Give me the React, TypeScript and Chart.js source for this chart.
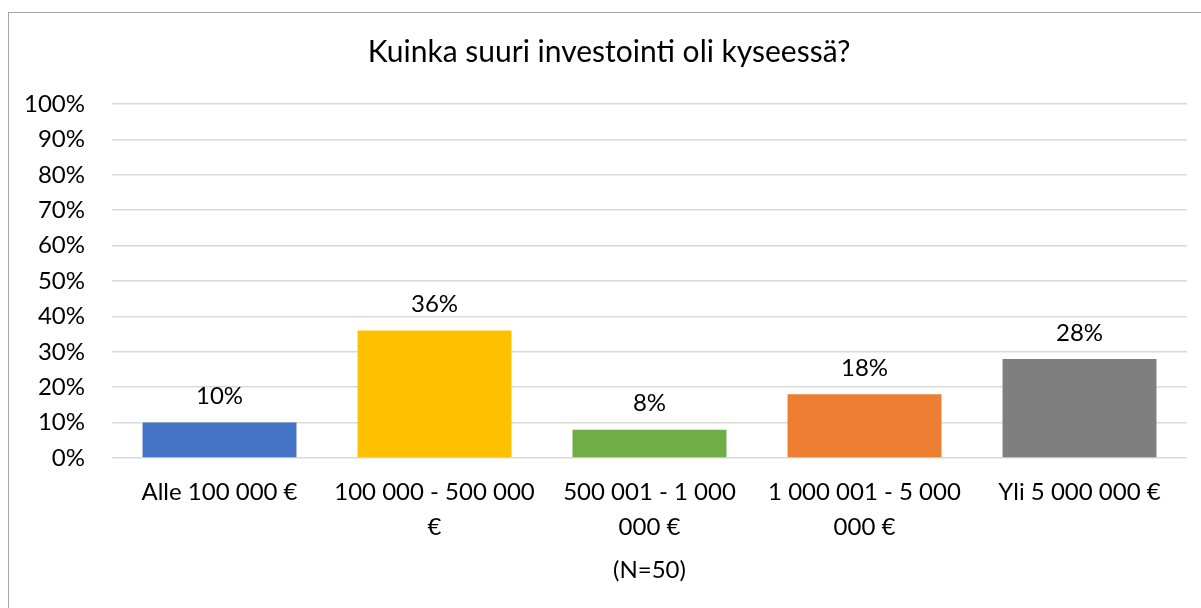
import React, { useEffect, useRef } from "react";
import { Chart, registerables } from "chart.js";

Chart.register(...registerables);

const titleText = "Kuinka suuri investointi oli kyseessä?";
const xAxisTitle = "(N=50)";
const categories: string[][] = [
  ["Alle 100 000 €"],
  ["100 000 - 500 000", "€"],
  ["500 001 - 1 000", "000 €"],
  ["1 000 001 - 5 000", "000 €"],
  ["Yli 5 000 000 €"],
];
const values: number[] = [10, 36, 8, 18, 28];
const barColors: string[] = ["#4472C4", "#FFC000", "#70AD47", "#ED7D31", "#7F7F7F"];
const yTickValues: number[] = [0, 10, 20, 30, 40, 50, 60, 70, 80, 90, 100];

const FONT = "Lato, 'Open Sans', sans-serif";

const dataLabelPlugin = {
  id: "dataLabels",
  afterDatasetsDraw(chart: any) {
    const ctx = chart.ctx;
    const meta = chart.getDatasetMeta(0);
    ctx.save();
    ctx.font = `24px ${FONT}`;
    ctx.fillStyle = "#000";
    ctx.textAlign = "center";
    ctx.textBaseline = "middle";
    meta.data.forEach((bar: any, i: number) => {
      const { x, y } = bar.getProps(["x", "y"], true);
      ctx.fillText(values[i] + "%", x, y - 26);
    });
    ctx.restore();
  },
};

export default function App() {
  const canvasRef = useRef<HTMLCanvasElement | null>(null);

  useEffect(() => {
    if (!canvasRef.current) return;
    const chart = new Chart(canvasRef.current, {
      type: "bar",
      data: {
        labels: categories,
        datasets: [
          {
            data: values,
            backgroundColor: barColors,
            borderWidth: 0,
            barPercentage: 0.716,
            categoryPercentage: 1,
          },
        ],
      },
      options: {
        responsive: false,
        animation: false,
        devicePixelRatio: 1,
        layout: { padding: { left: 0, right: 0, top: 0, bottom: 0 } },
        plugins: {
          legend: { display: false },
          tooltip: { enabled: false },
          title: {
            display: true,
            text: titleText,
            color: "#000",
            font: { family: FONT, size: 30, weight: "normal" as any, lineHeight: 1.2 },
            padding: { top: 21.8, bottom: 33.2 },
          },
        },
        scales: {
          x: {
            grid: { display: false, drawTicks: false },
            border: { display: false },
            ticks: {
              color: "#000",
              padding: 16.5,
              maxRotation: 0,
              autoSkip: false,
              font: { family: FONT, size: 24, lineHeight: 1.458 },
            },
            title: {
              display: true,
              text: xAxisTitle,
              color: "#000",
              font: { family: FONT, size: 24, lineHeight: 1.2 },
              padding: { top: 0, bottom: 28.6 },
            },
            afterFit: (scale: any) => {
              scale.height = 155;
            },
          },
          y: {
            min: 0,
            max: 100,
            afterBuildTicks: (scale: any) => {
              scale.ticks = yTickValues.map((v) => ({ value: v }));
            },
            grid: { color: "#d9d9d9", lineWidth: 1.5, drawTicks: false },
            border: { display: false },
            ticks: {
              color: "#000",
              padding: 27,
              font: { family: FONT, size: 24 },
              callback: (v: any) => v + "%",
            },
            afterFit: (scale: any) => {
              scale.width = 103;
            },
          },
          spacer: {
            type: "linear",
            position: "right",
            display: true,
            min: 0,
            max: 100,
            grid: { display: false, drawTicks: false },
            border: { display: false },
            ticks: { display: false },
            afterFit: (scale: any) => {
              scale.width = 22;
            },
          },
        },
      },
      plugins: [dataLabelPlugin],
    });
    return () => chart.destroy();
  }, []);

  return (
    <div
      style={{
        position: "fixed",
        left: 8,
        top: 12,
        width: 1300,
        height: 700,
        border: "1px solid #a6a6a6",
        background: "#fff",
      }}
    >
      <canvas ref={canvasRef} width={1200} height={600} style={{ display: "block" }} />
    </div>
  );
}
